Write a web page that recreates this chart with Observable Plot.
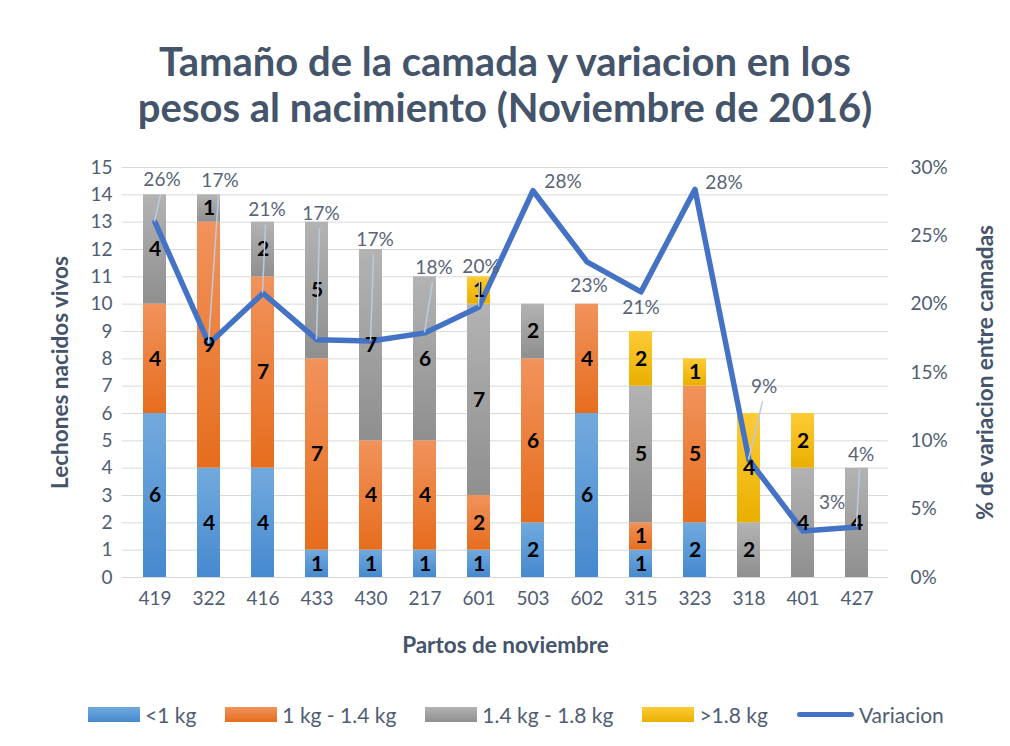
<!DOCTYPE html>
<html><head><meta charset="utf-8">
<script src="https://cdn.jsdelivr.net/npm/d3@7"></script>
<script src="https://cdn.jsdelivr.net/npm/@observablehq/plot@0.6"></script>
<style>
body{margin:0;background:#fff;font-family:Lato,"Open Sans",sans-serif;width:1010px;height:746px;overflow:hidden;}
#title{height:150px;box-sizing:border-box;padding-top:38px;text-align:center;font-weight:bold;font-size:40px;line-height:46px;color:#44546a;}
#chart{height:540px;}
#legend{display:flex;align-items:center;height:48px;padding-left:88px;font-size:21px;color:#4f5d73;}
#legend .item{display:flex;align-items:center;margin-right:29px;}
#legend .sw{width:52px;height:15px;margin-right:5px;}
#legend .ln{width:57px;height:5px;border-radius:3px;background:#4472c4;margin-right:5px;}
</style></head>
<body>
<div id="title">Tamaño de la camada y variacion en los<br>pesos al nacimiento (Noviembre de 2016)</div>
<div id="chart"></div>
<div id="legend"></div>
<script>
// ---- data ----
const partos = ["419","322","416","433","430","217","601","503","602","315","323","318","401","427"];
const menos1kg   = [6,4,4,1,1,1,1,2,6,1,2,0,0,0];
const de1a14kg   = [4,9,7,7,4,4,2,6,4,1,5,0,0,0];
const de14a18kg  = [4,1,2,5,7,6,7,2,0,5,0,2,4,4];
const mas18kg    = [0,0,0,0,0,0,1,0,0,2,1,4,2,0];
const variacion  = [0.26,0.171,0.208,0.174,0.173,0.179,0.198,0.283,0.231,0.209,0.284,0.086,0.034,0.037];
const seriesNames = ["<1 kg","1 kg - 1.4 kg","1.4 kg - 1.8 kg",">1.8 kg"];
const leftTicks = [0,1,2,3,4,5,6,7,8,9,10,11,12,13,14,15];
const rightTicks = [0,0.05,0.10,0.15,0.20,0.25,0.30];

// ---- layout / style (not data) ----
const gradTop = ["#72aadd","#f1935c","#b3b3b3","#ffcb36"];
const gradBot = ["#4689cf","#e66d1d","#8f8f8f","#e9b000"];
const labelDx = [7,11,4,4,4,9,2,30,2,0,29,15,29,4];
const labelDy = [-42,-163,-83,-126,-101,-65,-40,-9,24,16,-6,-73,-28,-72];
const leftMax = 15, rightMax = 0.30;
const pctToLeft = v => v * leftMax / rightMax;

const seriesValues = [menos1kg, de1a14kg, de14a18kg, mas18kg];
const rows = [];
seriesValues.forEach((vals, k) => vals.forEach((v, i) => rows.push({parto: partos[i], serie: seriesNames[k], value: v})));
const lineRows = partos.map((p, i) => ({parto: p, pct: variacion[i]}));

function defs() {
  const d = d3.create("svg:defs");
  seriesNames.forEach((s, k) => {
    const lg = d.append("linearGradient").attr("id", "g" + k).attr("x1", 0).attr("y1", 0).attr("x2", 0).attr("y2", 1);
    lg.append("stop").attr("offset", "0%").attr("stop-color", gradTop[k]);
    lg.append("stop").attr("offset", "100%").attr("stop-color", gradBot[k]);
  });
  return d.node();
}
function leaders(index, scales) {
  const x = scales.x, y = scales.y;
  const bw = x.bandwidth ? x.bandwidth() : 0;
  const g = d3.create("svg:g").attr("stroke", "#bccbe0").attr("stroke-width", 1.5);
  lineRows.forEach((d, i) => {
    if (labelDy[i] > -35) return;
    const cx = x(d.parto) + bw / 2, cy = y(pctToLeft(d.pct));
    g.append("line").attr("x1", cx + labelDx[i] - 1).attr("y1", cy + labelDy[i] + 15).attr("x2", cx).attr("y2", cy);
  });
  return g.node();
}

const txt = "#4f5d73";
const marks = [
  defs,
  Plot.gridY(leftTicks, {stroke: "#d9d9d9", strokeOpacity: 1}),
  Plot.barY(rows, {x: "parto", y: "value", fill: "serie"}),
  Plot.line(lineRows, {x: "parto", y: d => pctToLeft(d.pct), stroke: "#4472c4", strokeWidth: 5.5, strokeLinejoin: "round"}),
  Plot.text(rows, Plot.stackY({x: "parto", y: "value", z: "serie", text: d => d.value > 0 ? String(d.value) : null, fontWeight: "bold", fontSize: 21, fill: "#000"})),
  leaders,
  ...lineRows.map((d, i) => Plot.text([d], {x: "parto", y: r => pctToLeft(r.pct), text: r => Math.round(r.pct * 100) + "%", dx: labelDx[i], dy: labelDy[i], fontSize: 19, fill: "#596378"})),
  Plot.axisY(leftTicks, {anchor: "left", tickSize: 0, tickPadding: 10, fontSize: 19, color: txt, label: null}),
  Plot.axisY(rightTicks.map(pctToLeft), {anchor: "right", tickSize: 0, tickPadding: 22, fontSize: 19, color: txt, label: null, tickFormat: d => Math.round(d / leftMax * rightMax * 100) + "%"}),
  Plot.axisX({tickSize: 0, tickPadding: 14, fontSize: 19, color: txt, label: null}),
  Plot.text(["Lechones nacidos vivos"], {frameAnchor: "left", textAnchor: "middle", lineAnchor: "middle", text: d => d, rotate: -90, dx: -62, fontWeight: "bold", fontSize: 22.5, fill: "#44546a"}),
  Plot.text(["% de variacion entre camadas"], {frameAnchor: "right", textAnchor: "middle", lineAnchor: "middle", text: d => d, rotate: -90, dx: 97, fontWeight: "bold", fontSize: 22.5, fill: "#44546a"}),
  Plot.text(["Partos de noviembre"], {frameAnchor: "bottom", textAnchor: "middle", lineAnchor: "middle", text: d => d, dy: 68, fontWeight: "bold", fontSize: 22.5, fill: "#44546a"})
];

const chart = Plot.plot({
  width: 1010, height: 540,
  marginLeft: 122, marginRight: 122, marginTop: 17, marginBottom: 113,
  style: {fontFamily: "Lato, 'Open Sans', sans-serif", background: "transparent"},
  x: {domain: partos, paddingInner: 0.58, paddingOuter: 0.29, axis: null},
  y: {domain: [0, leftMax], axis: null},
  color: {domain: seriesNames, range: seriesNames.map((s, k) => `url(#g${k})`)},
  marks
});
document.getElementById("chart").appendChild(chart);

// legend
const leg = document.getElementById("legend");
seriesNames.forEach((s, k) => {
  const it = document.createElement("div"); it.className = "item";
  it.innerHTML = `<div class="sw" style="background:linear-gradient(${gradTop[k]},${gradBot[k]})"></div><span>${s.replace("<","&lt;")}</span>`;
  leg.appendChild(it);
});
const it = document.createElement("div"); it.className = "item";
it.innerHTML = `<div class="ln"></div><span>Variacion</span>`;
leg.appendChild(it);
</script>
</body></html>
